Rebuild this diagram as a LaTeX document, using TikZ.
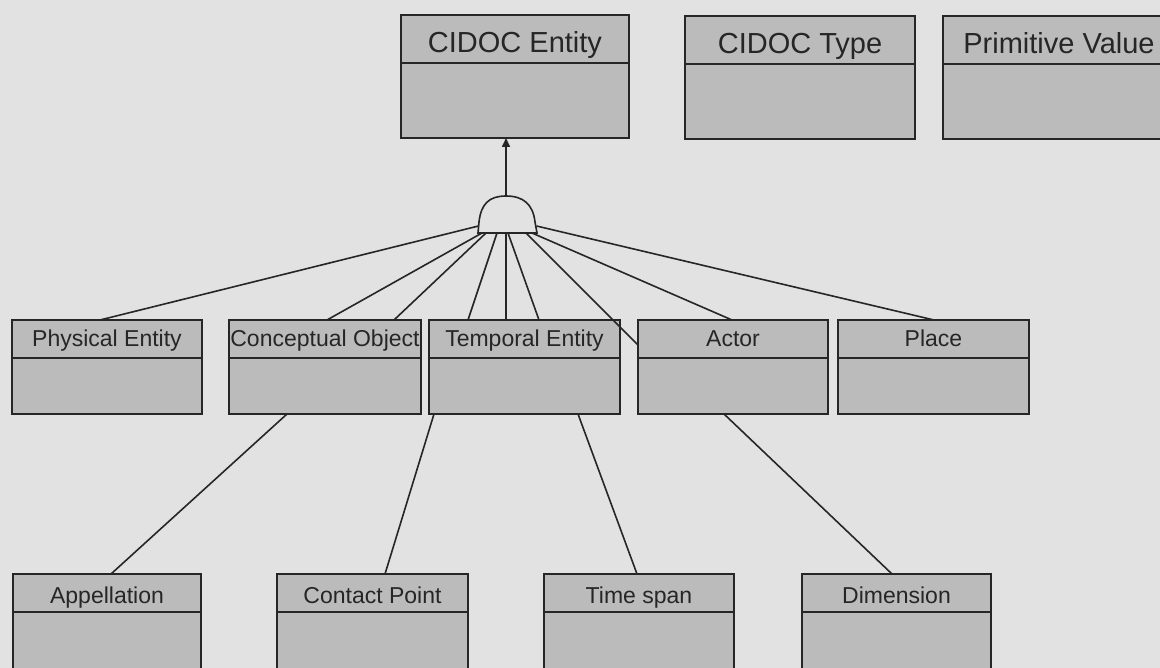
\documentclass[tikz,border=0pt]{standalone}
\usepackage{fontspec}
\setmainfont{Liberation Sans}
\usetikzlibrary{arrows.meta}

\definecolor{paper}{RGB}{226,226,226}
\definecolor{boxgray}{RGB}{187,187,187}
\definecolor{ink}{RGB}{38,38,38}

\tikzset{
  x=1pt, y=-1pt,
  classframe/.style={draw=ink, line width=1.7pt, fill=boxgray, inner sep=0pt,
                     outer sep=0pt, anchor=north west},
  classrule/.style={draw=ink, line width=1.7pt},
  bigtitle/.style={font=\fontsize{29}{33}\selectfont, text=ink, inner sep=0pt, anchor=base},
  smalltitle/.style={font=\fontsize{23}{27}\selectfont, text=ink, inner sep=0pt, anchor=base},
  link/.style={draw=ink, line width=1.6pt},
}

% #1 name, #2 left, #3 top, #4 right, #5 bottom, #6 divider y, #7 baseline y, #8 title style, #9 title
\newcommand\umlclassbox[9]{%
  \node[classframe, minimum width={#4-#2}, minimum height={#5-#3}] (#1) at (#2,#3) {};
  \draw[classrule] (#2,#6) -- (#4,#6);
  \node[#8] (#1-title) at ({(#2+#4)/2},#7) {#9};
}

\begin{document}
\begin{tikzpicture}
\useasboundingbox (0,0) rectangle (1160,668);
\clip (0,0) rectangle (1160,668);
\fill[paper] (0,0) rectangle (1160,668);

% top row
\umlclassbox{entity}{401}{15}{629}{138}{63}{53}{bigtitle}{CIDOC Entity}
\umlclassbox{ctype}{685}{16}{915}{139}{64}{54}{bigtitle}{CIDOC Type}
\umlclassbox{primitive}{943}{16}{1175}{139}{64}{54}{bigtitle}{Primitive Value}

% second row
\umlclassbox{physical}{12}{320}{202}{414}{358}{347}{smalltitle}{Physical Entity}
\umlclassbox{concept}{229}{320}{421}{414}{358}{347}{smalltitle}{Conceptual Object}
\umlclassbox{temporal}{429}{320}{620}{414}{358}{347}{smalltitle}{Temporal Entity}
\umlclassbox{actor}{638}{320}{828}{414}{358}{347}{smalltitle}{Actor}
\umlclassbox{place}{838}{320}{1029}{414}{358}{347}{smalltitle}{Place}

% third row
\umlclassbox{appel}{13}{574}{201}{700}{612}{603}{smalltitle}{Appellation}
\umlclassbox{contact}{277}{574}{468}{700}{612}{603}{smalltitle}{Contact Point}
\umlclassbox{timespan}{544}{574}{734}{700}{612}{603}{smalltitle}{Time span}
\umlclassbox{dimension}{802}{574}{991}{700}{612}{603}{smalltitle}{Dimension}

% generalisation hub
\filldraw[fill=paper, draw=ink, line width=1.6pt]
  (478,233) -- (479,222) .. controls (481,204) and (489,196) .. (506,196)
  .. controls (523,196) and (533,204) .. (535,222) -- (537,233) -- cycle;
\coordinate (hub-top) at (506,196);
\coordinate (hub-l)   at (478.5,226);
\coordinate (hub-r)   at (536.5,226);
\coordinate (hub-b1)  at (482,233);
\coordinate (hub-b2)  at (486,233);
\coordinate (hub-b3)  at (497,233);
\coordinate (hub-b4)  at (506,233);
\coordinate (hub-b5)  at (508,233);
\coordinate (hub-b6)  at (526,233);
\coordinate (hub-b7)  at (532,233);

\draw[link, -{Triangle[length=9pt, width=8pt]}] (hub-top) -- (506,0 |- entity.south);

\draw[link] (hub-l)  -- (100,0 |- physical.north);
\draw[link] (hub-b1) -- (327,0 |- concept.north);
\draw[link] (hub-b2) -- (394,0 |- concept.north);
\draw[link] (hub-b3) -- (468,0 |- temporal.north);
\draw[link] (hub-b4) -- (506,0 |- temporal.north);
\draw[link] (hub-b5) -- (539,0 |- temporal.north);
\draw[link] (hub-b6) -- (actor.west |- 0,345);
\draw[link] (hub-b7) -- (732,0 |- actor.north);
\draw[link] (hub-r)  -- (934,0 |- place.north);

% lower links
\draw[link] (287,0 |- concept.south)  -- (111,0 |- appel.north);
\draw[link] (434,0 |- temporal.south) -- (385,0 |- contact.north);
\draw[link] (578,0 |- temporal.south) -- (637,0 |- timespan.north);
\draw[link] (724,0 |- actor.south)    -- (892,0 |- dimension.north);
\end{tikzpicture}
\end{document}
